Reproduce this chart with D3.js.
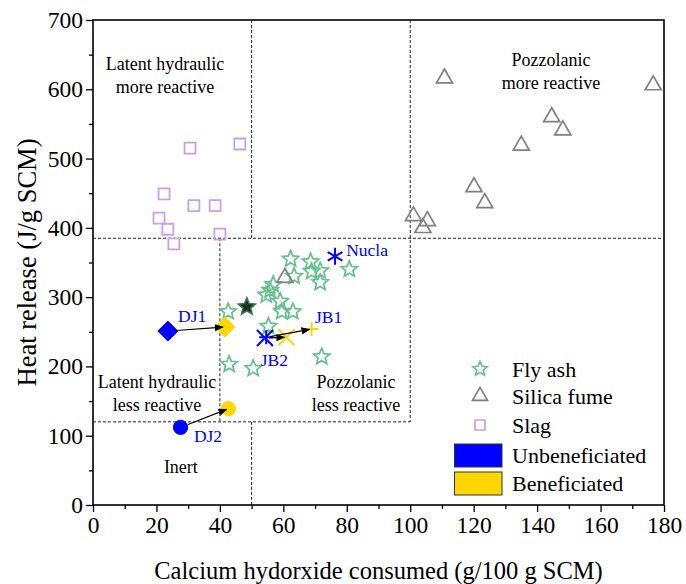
<!DOCTYPE html>
<html>
<head>
<meta charset="utf-8">
<script src="https://cdn.jsdelivr.net/npm/d3@7"></script>
</head>
<body style="margin:0">
<svg id="chart" width="686" height="584" font-family="Liberation Serif"></svg>
<script>
// ---- data ----
const xTicks = [0, 20, 40, 60, 80, 100, 120, 140, 160, 180];
const yTicks = [0, 100, 200, 300, 400, 500, 600, 700];

const flyAsh = [
  [62.3, 355], [68.6, 351], [80.8, 340], [68.9, 337], [71.6, 338],
  [63.4, 330], [71.6, 321], [56.8, 318], [55.8, 310], [54.6, 303],
  [59.0, 294], [59.5, 279], [63.0, 279], [42.6, 279], [55.3, 258],
  [72.1, 214], [42.9, 203], [50.5, 197]
];
const flyAshHighlight = [[48.5, 286]];
const silicaFume = [
  [110.8, 616], [176.6, 606], [144.6, 560], [148.1, 541], [135.0, 519],
  [120.1, 459], [123.5, 436], [101.0, 417], [105.4, 410], [104.0, 400],
  [60.5, 328]
];
const slag = [
  [30.6, 515], [46.3, 521], [22.4, 449], [31.8, 432], [38.5, 432],
  [20.8, 414], [23.6, 398], [40.0, 391], [25.5, 377]
];

// unbeneficiated -> beneficiated pairs
const samples = ["DJ1", "DJ2", "JB1", "JB2"];
const sampleShape = ["diamond", "circle", "plus", "cross"];
const unbeneficiated = [[23.6, 251], [27.6, 112], [54.6, 242], [54.2, 241]];
const beneficiated = [[41.6, 257], [42.7, 139], [68.9, 254], [61.0, 242]];
const nucla = [76.3, 359];

// region boundaries (dashed)
const boundaries = [
  [[50, 700], [50, 385]],
  [[100, 700], [100, 120]],
  [[0, 385], [180, 385]],
  [[40, 385], [40, 120]],
  [[0, 120], [100, 120]],
  [[50, 120], [50, 0]]
];
const regionLabels = [
  {x: 22.7, y: 628, lines: ["Latent hydraulic", "more reactive"]},
  {x: 144.4, y: 634, lines: ["Pozzolanic", "more reactive"]},
  {x: 20.2, y: 169, lines: ["Latent hydraulic", "less reactive"]},
  {x: 82.9, y: 169, lines: ["Pozzolanic", "less reactive"]},
  {x: 27.7, y: 46, lines: ["Inert"]}
];
const sampleLabels = [
  {t: "DJ1", x: 26.8, y: 264}, {t: "DJ2", x: 31.8, y: 91},
  {t: "JB1", x: 70.0, y: 262}, {t: "JB2", x: 52.9, y: 200},
  {t: "Nucla", x: 79.8, y: 359}
];

// ---- layout ----
const W = 686, H = 584;
const FONT = "Liberation Serif";
const m = {left: 93, right: 22, top: 20, bottom: 79};
const svg = d3.select("#chart");
const x = d3.scaleLinear().domain([0, 180]).range([m.left, W - m.right]);
const y = d3.scaleLinear().domain([0, 700]).range([H - m.bottom, m.top]);

const green = "#62c08c", gray = "#7f7f7f", purple = "#c9a0ea";
const blue = "#0000ff", gold = "#ffd700";

function addText(sel) {
  return sel.append("text").attr("font-family", FONT).style("font-family", FONT);
}

// ---- symbol paths ----
function starPath(R) {
  const r = R * 0.45, pts = [];
  for (let i = 0; i < 10; i++) {
    const a = -Math.PI / 2 + i * Math.PI / 5;
    const rr = i % 2 ? r : R;
    pts.push([rr * Math.cos(a), rr * Math.sin(a)]);
  }
  return "M" + pts.map(p => p.join(",")).join("L") + "Z";
}
function trianglePath(s) {
  const h = s * Math.sqrt(3) / 2;
  return `M0,${-h * 2 / 3}L${s / 2},${h / 3}L${-s / 2},${h / 3}Z`;
}
function squarePath(s) { const a = s / 2; return `M${-a},${-a}H${a}V${a}H${-a}Z`; }
function diamondPath(s) { return `M0,${-s}L${s},0L0,${s}L${-s},0Z`; }
function plusPath(s) { return `M${-s},0H${s}M0,${-s}V${s}`; }
function crossPath(s) { return `M${-s},${-s}L${s},${s}M${-s},${s}L${s},${-s}`; }
function asteriskPath(s) {
  let d = "";
  for (let i = 0; i < 3; i++) {
    const a = Math.PI / 2 + i * Math.PI / 3;
    d += `M${-s * Math.cos(a)},${-s * Math.sin(a)}L${s * Math.cos(a)},${s * Math.sin(a)}`;
  }
  return d;
}

// ---- axes ----
const gx = svg.append("g").attr("transform", `translate(0,${y(0)})`)
  .call(d3.axisBottom(x).tickValues(d3.range(0, 181, 10)).tickSize(7).tickPadding(4)
    .tickFormat(d => xTicks.includes(d) ? d : ""));
gx.selectAll(".tick line").attr("y2", d => xTicks.includes(d) ? 7 : 4);
const gy = svg.append("g").attr("transform", `translate(${x(0)},0)`)
  .call(d3.axisLeft(y).tickValues(d3.range(0, 701, 50)).tickSize(7).tickPadding(3)
    .tickFormat(d => yTicks.includes(d) ? d : ""));
gy.selectAll(".tick line").attr("x2", d => yTicks.includes(d) ? -7 : -4);
[gx, gy].forEach(g => {
  g.attr("font-family", FONT).attr("font-size", 23.5);
  g.select(".domain").remove();
  g.selectAll(".tick line").attr("stroke", "#000").attr("stroke-width", 1.3);
  g.selectAll(".tick text").attr("font-size", 23.5).attr("fill", "#000")
    .attr("font-family", FONT).style("font-family", FONT);
});
// frame
svg.append("rect").attr("x", x(0)).attr("y", y(700))
  .attr("width", x(180) - x(0)).attr("height", y(0) - y(700))
  .attr("fill", "none").attr("stroke", "#000").attr("stroke-width", 1.6);

// axis titles
addText(svg).attr("x", (x(0) + x(180)) / 2).attr("y", 579)
  .attr("text-anchor", "middle").attr("font-size", 24.5)
  .text("Calcium hydorxide consumed (g/100 g SCM)");
addText(svg).attr("transform", `translate(36,${(y(0) + y(700)) / 2}) rotate(-90)`)
  .attr("text-anchor", "middle").attr("font-size", 26.5)
  .text("Heat release (J/g SCM)");

// ---- region boundaries ----
svg.append("g").selectAll("line").data(boundaries).join("line")
  .attr("x1", d => x(d[0][0])).attr("y1", d => y(d[0][1]))
  .attr("x2", d => x(d[1][0])).attr("y2", d => y(d[1][1]))
  .attr("stroke", "#222").attr("stroke-width", 1).attr("stroke-dasharray", "3,2");

const rl = svg.append("g");
regionLabels.forEach(l => {
  const t = addText(rl).attr("text-anchor", "middle").attr("font-size", 18)
    .attr("x", x(l.x)).attr("y", y(l.y));
  l.lines.forEach((s, i) => t.append("tspan").attr("x", x(l.x)).attr("dy", i ? 23 : 0).text(s));
});

// ---- series ----
const plot = svg.append("g");
plot.selectAll(".fa").data(flyAsh).join("path")
  .attr("transform", d => `translate(${x(d[0])},${y(d[1])})`)
  .attr("d", starPath(8.5)).attr("fill", "none").attr("stroke", green).attr("stroke-width", 1.7);
plot.selectAll(".faH").data(flyAshHighlight).join("path")
  .attr("transform", d => `translate(${x(d[0])},${y(d[1])})`)
  .attr("d", starPath(9)).attr("fill", "#17301f").attr("stroke", "#3a7a52").attr("stroke-width", 1.6);
plot.selectAll(".sf").data(silicaFume).join("path")
  .attr("transform", d => `translate(${x(d[0])},${y(d[1])})`)
  .attr("d", trianglePath(16)).attr("fill", "none").attr("stroke", gray).attr("stroke-width", 1.7);
plot.selectAll(".sl").data(slag).join("path")
  .attr("transform", d => `translate(${x(d[0])},${y(d[1])})`)
  .attr("d", squarePath(11)).attr("fill", "none").attr("stroke", purple).attr("stroke-width", 1.8);

// arrows from unbeneficiated to beneficiated
const defs = svg.append("defs");
defs.append("marker").attr("id", "arrow").attr("viewBox", "0 0 10 10")
  .attr("refX", 9).attr("refY", 5).attr("markerWidth", 9).attr("markerHeight", 9)
  .attr("markerUnits", "userSpaceOnUse").attr("orient", "auto")
  .append("path").attr("d", "M0,1L10,5L0,9Z").attr("fill", "#000");

function symbolFor(shape) {
  switch (shape) {
    case "diamond": return {d: diamondPath(10), fill: true};
    case "circle": return {d: d3.symbol(d3.symbolCircle, 160)(), fill: true};
    case "plus": return {d: plusPath(7), fill: false};
    case "cross": return {d: crossPath(8), fill: false};
  }
}
samples.forEach((s, i) => {
  const sym = symbolFor(sampleShape[i]);
  [[beneficiated[i], gold], [unbeneficiated[i], blue]].forEach(([p, c]) => {
    plot.append("path").attr("transform", `translate(${x(p[0])},${y(p[1])})`)
      .attr("d", sym.d)
      .attr("fill", sym.fill ? c : "none").attr("stroke", c)
      .attr("stroke-width", sym.fill ? 1 : 2);
  });
});
samples.forEach((s, i) => {
  const a = unbeneficiated[i], b = beneficiated[i];
  const x1 = x(a[0]), y1 = y(a[1]), x2 = x(b[0]), y2 = y(b[1]);
  const len = Math.hypot(x2 - x1, y2 - y1);
  const ux = (x2 - x1) / len, uy = (y2 - y1) / len;
  const solid = sampleShape[i] === "diamond" || sampleShape[i] === "circle";
  const startOff = solid ? 8 : 4;
  plot.append("line")
    .attr("x1", x1 + ux * startOff).attr("y1", y1 + uy * startOff)
    .attr("x2", x2 - ux * 2).attr("y2", y2 - uy * 2)
    .attr("stroke", "#000").attr("stroke-width", 1.2).attr("marker-end", "url(#arrow)");
});

plot.append("path").attr("transform", `translate(${x(nucla[0])},${y(nucla[1])})`)
  .attr("d", asteriskPath(8.5)).attr("fill", "none").attr("stroke", blue).attr("stroke-width", 2);

// sample labels
const sl = svg.append("g");
sampleLabels.forEach(d => {
  addText(sl).attr("x", x(d.x)).attr("y", y(d.y)).attr("font-size", 17.5)
    .attr("fill", blue).text(d.t);
});

// ---- legend ----
const legendItems = [
  {label: "Fly ash", kind: "sym", d: starPath(7.5), stroke: green},
  {label: "Silica fume", kind: "sym", d: trianglePath(15), stroke: gray},
  {label: "Slag", kind: "sym", d: squarePath(10), stroke: purple},
  {label: "Unbeneficiated", kind: "box", fill: blue},
  {label: "Beneficiated", kind: "box", fill: gold}
];
const legendY = [369, 396, 425, 455.5, 483.5];
const lg = svg.append("g");
legendItems.forEach((it, i) => {
  const cy = legendY[i];
  if (it.kind === "sym") {
    lg.append("path").attr("transform", `translate(480,${cy})`).attr("d", it.d)
      .attr("fill", "none").attr("stroke", it.stroke).attr("stroke-width", 1.7);
  } else {
    lg.append("rect").attr("x", 454.5).attr("y", cy - 11.5).attr("width", 47.5).attr("height", 23)
      .attr("fill", it.fill).attr("stroke", "#333").attr("stroke-width", 1);
  }
  addText(lg).attr("x", 512).attr("y", cy + 7.5).attr("font-size", 22).text(it.label);
});
</script>
</body>
</html>
